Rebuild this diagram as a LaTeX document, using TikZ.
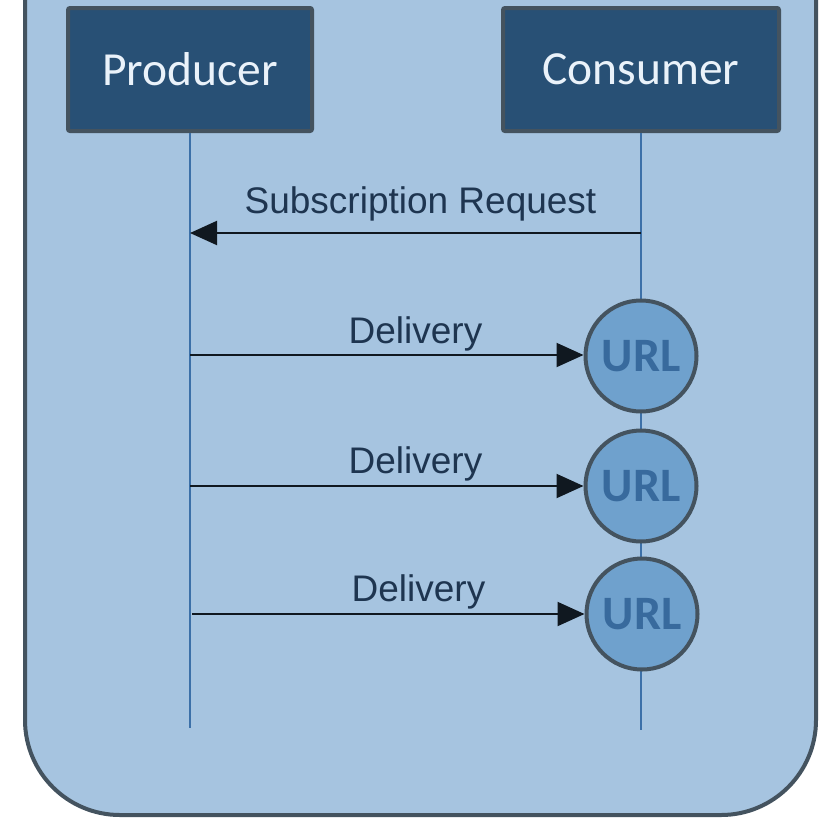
\documentclass[tikz,border=0pt]{standalone}
\usepackage{fontspec}
\setmainfont{Liberation Sans}
\newfontfamily\calib{Carlito}
\usetikzlibrary{arrows.meta}
\definecolor{framefill}{HTML}{A6C4E0}
\definecolor{edgegray}{HTML}{44535F}
\definecolor{boxfill}{HTML}{285075}
\definecolor{boxtext}{HTML}{EAF2FA}
\definecolor{urlfill}{HTML}{6FA1CD}
\definecolor{urltext}{HTML}{386A9D}
\definecolor{lifeline}{HTML}{3C70A8}
\definecolor{msgline}{HTML}{101820}
\definecolor{msgtext}{HTML}{1E3550}
\tikzset{
  actor/.style={draw=edgegray, line width=4pt, fill=boxfill, rounded corners=2pt,
    minimum height=123pt, inner sep=0pt, text=boxtext,
    font=\calib\fontsize{47.5}{50}\selectfont},
  urlnode/.style={circle, draw=edgegray, line width=4pt, fill=urlfill,
    minimum size=111pt, inner sep=0pt, text=urltext,
    font=\calib\bfseries\fontsize{48}{50}\selectfont},
  lifelinestyle/.style={draw=lifeline, line width=1.5pt},
  msg/.style={draw=msgline, line width=2pt,
    -{Triangle[length=27pt,width=24pt]}},
  msglabel/.style={anchor=base, inner sep=0pt, text=msgtext,
    font=\fontsize{37}{40}\selectfont}
}
\begin{document}
\begin{tikzpicture}[x=1pt,y=1pt]
\useasboundingbox (0,0) rectangle (821,-817);
\clip (0,0) rectangle (821,-817);
% enclosing panel, its top edge runs past the page
\draw[draw=edgegray, line width=4pt, fill=framefill, rounded corners=95pt]
  (25,-200) -- (25,100) -- (816,100) -- (816,-815) -- (25,-815) -- cycle;

% participants
\node[actor, minimum width=244pt] (prod) at (190,-69.5) {Producer};
\node[actor, minimum width=276pt] (cons) at (641,-69.5) {Consumer};

% lifelines
\coordinate (prodend) at (190,-728);
\coordinate (consend) at (641,-730);
\draw[lifelinestyle] (prod.south) -- (prodend);
\draw[lifelinestyle] (cons.south) -- (consend);

% delivery endpoints
\node[urlnode] (u1) at (641,-356) {URL};
\node[urlnode] (u2) at (641,-486) {URL};
\node[urlnode] (u3) at (642,-614) {URL};

% subscription request
\coordinate (sreqfrom) at (641,-233);
\coordinate (sreqto) at (190,-233);
\draw[msg] (sreqfrom) -- (sreqto);
\node[msglabel] (sreqlabel) at (420.5,-213) {Subscription Request};

% deliveries
\coordinate (d1) at (190,-355);
\coordinate (d2) at (190,-486);
\coordinate (d3) at (192,-614);
\draw[msg] (d1) -- (u1.west |- d1);
\draw[msg] (d2) -- (u2.west |- d2);
\draw[msg] (d3) -- (u3.west |- d3);
\node[msglabel] (l1) at (415.5,-343) {Delivery};
\node[msglabel] (l2) at (415.5,-473) {Delivery};
\node[msglabel] (l3) at (418.5,-601) {Delivery};
\end{tikzpicture}
\end{document}
